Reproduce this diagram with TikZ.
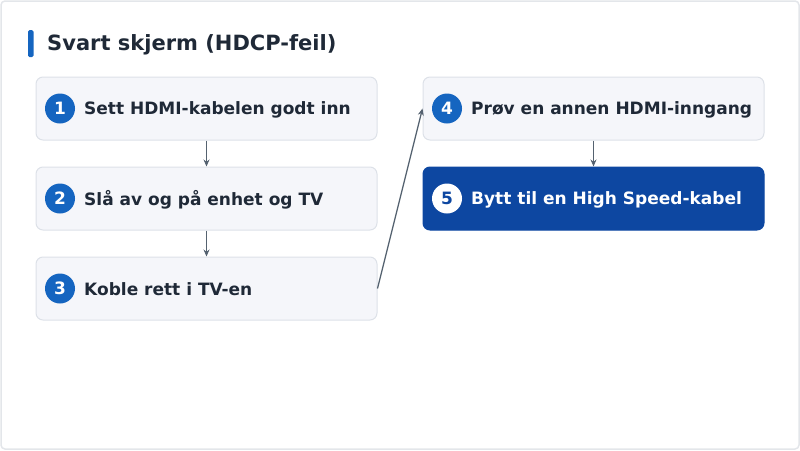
\documentclass[tikz,border=0pt]{standalone}
\usepackage{fontspec}
\setmainfont{DejaVu Sans}
\usetikzlibrary{arrows.meta}
\definecolor{boxfill}{HTML}{F5F6FA}
\definecolor{boxline}{HTML}{DDE1E8}
\definecolor{circblue}{HTML}{1565C0}
\definecolor{darkblue}{HTML}{0D47A1}
\definecolor{txt}{HTML}{1F2937}
\definecolor{arr}{HTML}{556270}
\definecolor{frame}{HTML}{E3E6EA}
\tikzset{
  stepbox/.style={draw=boxline, line width=1pt, fill=boxfill, rounded corners=7pt, minimum width=341pt, minimum height=63pt, inner sep=0pt},
  lastbox/.style={stepbox, draw=darkblue, fill=darkblue},
  numc/.style={circle, fill=circblue, minimum size=30pt, inner sep=0pt, text=white, font=\bfseries\fontsize{17}{20}\selectfont},
  numw/.style={circle, fill=white, minimum size=30pt, inner sep=0pt, text=darkblue, font=\bfseries\fontsize{17}{20}\selectfont},
  lbl/.style={anchor=west, inner sep=0pt, text=txt, font=\bfseries\fontsize{17}{20}\selectfont},
  conn/.style={draw=arr, line width=1.3pt, -{Stealth[length=7pt,width=6pt]}},
}
\begin{document}
\begin{tikzpicture}[x=1pt,y=-1pt]
\useasboundingbox (0,0) rectangle (800,450);
\draw[frame, line width=1.5pt, rounded corners=4pt] (1,1) rectangle (799,449);
\fill[circblue, rounded corners=1.5pt] (28,30) rectangle (33.5,57);
\node[anchor=west, inner sep=0pt, text=txt, font=\bfseries\fontsize{21}{25}\selectfont] (title) at (47,45) {Svart skjerm (HDCP-feil)};
% boxes
\node[stepbox] (b1) at (206.5,108.5) {};
\node[stepbox] (b2) at (206.5,198.5) {};
\node[stepbox] (b3) at (206.5,288.5) {};
\node[stepbox] (b4) at (593.5,108.5) {};
\node[lastbox] (b5) at (593.5,198.5) {};
% numbers
\node[numc] (c1) at (60,108.5) {1};
\node[numc] (c2) at (60,198.5) {2};
\node[numc] (c3) at (60,288.5) {3};
\node[numc] (c4) at (447,108.5) {4};
\node[numw] (c5) at (447,198.5) {5};
% labels
\node[lbl] (t1) at (84,109.5) {Sett HDMI-kabelen godt inn};
\node[lbl] (t2) at (84,199.5) {Slå av og på enhet og TV};
\node[lbl] (t3) at (84,289.5) {Koble rett i TV-en};
\node[lbl] (t4) at (471,109.5) {Prøv en annen HDMI-inngang};
\node[lbl, text=white] (t5) at (471,199.5) {Bytt til en High Speed-kabel};
% connectors
\draw[conn] (b1.south) -- (b2.north);
\draw[conn] (b2.south) -- (b3.north);
\draw[conn] (b4.south) -- (b5.north);
\draw[conn] (b3.east) -- (b4.west);
\end{tikzpicture}
\end{document}
